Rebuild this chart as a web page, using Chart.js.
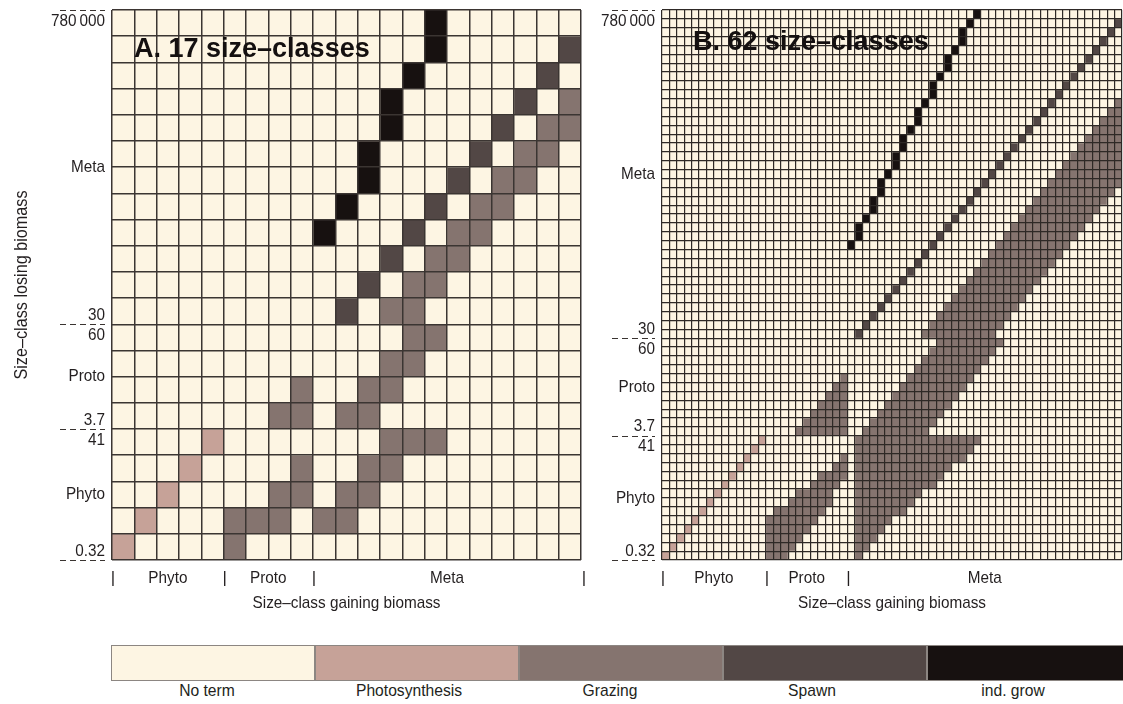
<!DOCTYPE html>
<html>
<head>
<meta charset="utf-8">
<title>Size-class transfer terms</title>
<script src="https://cdn.jsdelivr.net/npm/chart.js@4.4.1/dist/chart.umd.min.js"></script>
<style>
  html, body { margin: 0; padding: 0; background: #ffffff; }
  body { position: relative; width: 1123px; height: 704px; overflow: hidden;
         font-family: "Liberation Sans", Arial, Helvetica, sans-serif; color: #231f20; }
  canvas { position: absolute; top: 0; }
  #panelA { left: 0; }
  #panelB { left: 600px; }
  #legendBar { position: absolute; left: 111px; top: 645px; width: 1012px; height: 36px;
               overflow: hidden; display: flex; }
  .swatch { flex: 0 0 204px; height: 36px; border: 1px solid #8c8682; box-sizing: border-box; }
  .legendText { position: absolute; top: 681px; font-size: 17px; line-height: 20px;
                transform: translateX(-50%) scaleX(0.92); white-space: nowrap; }
</style>
</head>
<body>
<canvas id="panelA" width="600" height="625"></canvas>
<canvas id="panelB" width="523" height="625"></canvas>
<div id="legendBar"></div>
<script>
// Transfer terms, in legend order
const termNames = ['No term', 'Photosynthesis', 'Grazing', 'Spawn', 'ind. grow'];

// Functional groups of the size spectrum with their smallest / largest class sizes
const groupNames = ['Phyto', 'Proto', 'Meta'];
const groupSmallest = ['0.32', '3.7', '30'];
const groupLargest = ['41', '60', '780\u2009000'];

// Size-classes per group at each resolution
const classesA = [5, 4, 12];
const classesB = [14, 11, 37];

// Non-empty cells of each losing class, bottom row first:
// [first gaining class, last gaining class, term index]
const cellsA = [
  [[0, 0, 1], [5, 5, 2]],
  [[1, 1, 1], [5, 7, 2], [9, 10, 2]],
  [[2, 2, 1], [7, 8, 2], [10, 11, 2]],
  [[3, 3, 1], [8, 8, 2], [11, 12, 2]],
  [[4, 4, 1], [12, 14, 2]],
  [[7, 8, 2], [10, 11, 2]],
  [[8, 8, 2], [11, 12, 2]],
  [[12, 13, 2]],
  [[13, 14, 2]],
  [[10, 10, 3], [12, 13, 2]],
  [[11, 11, 3], [13, 14, 2]],
  [[12, 12, 3], [14, 15, 2]],
  [[9, 9, 4], [13, 13, 3], [15, 16, 2]],
  [[10, 10, 4], [14, 14, 3], [16, 17, 2]],
  [[11, 11, 4], [15, 15, 3], [17, 18, 2]],
  [[11, 11, 4], [16, 16, 3], [18, 19, 2]],
  [[12, 12, 4], [17, 17, 3], [19, 20, 2]],
  [[12, 12, 4], [18, 18, 3], [20, 20, 2]],
  [[13, 13, 4], [19, 19, 3]],
  [[14, 14, 4], [20, 20, 3]],
  [[14, 14, 4]]
];

const cellsB = [
  [[0, 0, 1], [14, 16, 2], [26, 26, 2]],
  [[1, 1, 1], [14, 17, 2], [26, 27, 2]],
  [[2, 2, 1], [14, 18, 2], [26, 28, 2]],
  [[3, 3, 1], [14, 19, 2], [26, 29, 2]],
  [[4, 4, 1], [14, 20, 2], [26, 30, 2]],
  [[5, 5, 1], [15, 21, 2], [26, 32, 2]],
  [[6, 6, 1], [17, 22, 2], [26, 33, 2]],
  [[7, 7, 1], [18, 22, 2], [26, 34, 2]],
  [[8, 8, 1], [20, 23, 2], [26, 36, 2]],
  [[9, 9, 1], [21, 24, 2], [26, 37, 2]],
  [[10, 10, 1], [23, 24, 2], [26, 38, 2]],
  [[11, 11, 1], [24, 24, 2], [26, 40, 2]],
  [[12, 12, 1], [26, 41, 2]],
  [[13, 13, 1], [26, 42, 2]],
  [[18, 24, 2], [27, 35, 2]],
  [[19, 24, 2], [28, 36, 2]],
  [[20, 24, 2], [29, 37, 2]],
  [[21, 24, 2], [30, 38, 2]],
  [[22, 24, 2], [31, 39, 2]],
  [[23, 24, 2], [32, 40, 2]],
  [[24, 24, 2], [33, 41, 2]],
  [[34, 42, 2]],
  [[35, 43, 2]],
  [[36, 44, 2]],
  [[37, 45, 2]],
  [[26, 26, 3], [35, 44, 2]],
  [[27, 27, 3], [36, 45, 2]],
  [[28, 28, 3], [37, 46, 2]],
  [[29, 29, 3], [38, 47, 2]],
  [[30, 30, 3], [39, 48, 2]],
  [[31, 31, 3], [40, 49, 2]],
  [[32, 32, 3], [41, 50, 2]],
  [[33, 33, 3], [42, 51, 2]],
  [[34, 34, 3], [43, 52, 2]],
  [[35, 35, 3], [44, 53, 2]],
  [[25, 25, 4], [36, 36, 3], [45, 54, 2]],
  [[26, 26, 4], [37, 37, 3], [46, 55, 2]],
  [[26, 26, 4], [38, 38, 3], [47, 56, 2]],
  [[27, 27, 4], [39, 39, 3], [48, 57, 2]],
  [[28, 28, 4], [40, 40, 3], [49, 58, 2]],
  [[28, 28, 4], [41, 41, 3], [50, 59, 2]],
  [[29, 29, 4], [42, 42, 3], [51, 60, 2]],
  [[29, 29, 4], [43, 43, 3], [52, 61, 2]],
  [[30, 30, 4], [44, 44, 3], [53, 61, 2]],
  [[31, 31, 4], [45, 45, 3], [54, 61, 2]],
  [[31, 31, 4], [46, 46, 3], [55, 61, 2]],
  [[32, 32, 4], [47, 47, 3], [56, 61, 2]],
  [[32, 32, 4], [48, 48, 3], [57, 61, 2]],
  [[33, 33, 4], [49, 49, 3], [58, 61, 2]],
  [[34, 34, 4], [50, 50, 3], [59, 61, 2]],
  [[34, 34, 4], [51, 51, 3], [60, 61, 2]],
  [[35, 35, 4], [52, 52, 3], [61, 61, 2]],
  [[36, 36, 4], [53, 53, 3]],
  [[36, 36, 4], [54, 54, 3]],
  [[37, 37, 4], [55, 55, 3]],
  [[38, 38, 4], [56, 56, 3]],
  [[38, 38, 4], [57, 57, 3]],
  [[39, 39, 4], [58, 58, 3]],
  [[40, 40, 4], [59, 59, 3]],
  [[40, 40, 4], [60, 60, 3]],
  [[41, 41, 4], [61, 61, 3]],
  [[42, 42, 4]]
];

// ---- styling ----
const termColors = ['#fdf5e3', '#c6a298', '#85746f', '#524745', '#171110'];
const FONT = '"Liberation Sans", Arial, Helvetica, sans-serif';
const TEXT = '#231f20';

function drawText(ctx, text, x, y, opt = {}) {
  ctx.save();
  ctx.translate(x, y);
  if (opt.rotate) ctx.rotate(opt.rotate);
  ctx.scale(opt.stretch || 0.9, 1);
  ctx.font = `${opt.weight || 'normal'} ${opt.size || 17}px ${FONT}`;
  ctx.textAlign = opt.align || 'center';
  ctx.textBaseline = 'middle';
  ctx.fillStyle = opt.color || TEXT;
  ctx.fillText(text, 0, 0);
  ctx.restore();
}

// Group labels, class-size labels, boundary marks and titles around a matrix
const sizeAxesPlugin = {
  id: 'sizeAxes',
  afterDraw(chart, _args, o) {
    const { ctx, chartArea: area, scales: { x, y } } = chart;
    const n = o.groups.reduce((a, b) => a + b, 0);
    const labelX = area.left - o.labelGap;
    let s = 0;
    o.groups.forEach((k, g) => {
      // class-size side
      drawText(ctx, groupNames[g], labelX, y.getPixelForValue(s + k / 2), { align: 'right' });
      drawText(ctx, groupSmallest[g], labelX, y.getPixelForValue(s) - 9, { align: 'right' });
      drawText(ctx, groupLargest[g], labelX, y.getPixelForValue(s + k) + 11, { align: 'right' });
      // gaining side
      drawText(ctx, groupNames[g], x.getPixelForValue(s + (k - 1) / 2), area.bottom + o.xLabelDy);
      drawText(ctx, '|', x.getPixelForValue(s - 0.5) + 1, area.bottom + o.xLabelDy, { stretch: 1 });
      s += k;
    });
    if (o.closeEnd) drawText(ctx, '|', x.getPixelForValue(n - 0.5) + 3, area.bottom + o.xLabelDy, { stretch: 1 });

    // dashed separators beside the class-size labels
    ctx.save();
    ctx.setLineDash([6, 4]);
    ctx.strokeStyle = '#3a3431';
    ctx.lineWidth = 1;
    let b = 0;
    [0, ...o.groups].forEach(k => {
      b += k;
      const py = Math.round(y.getPixelForValue(b)) + 0.5;
      ctx.beginPath();
      ctx.moveTo(area.left - o.dashFrom, py);
      ctx.lineTo(labelX, py);
      ctx.stroke();
    });
    ctx.restore();

    drawText(ctx, 'Size–class gaining biomass', (area.left + area.right) / 2, area.bottom + o.xTitleDy);
    if (o.yTitle) drawText(ctx, 'Size–class losing biomass', 22, (area.top + area.bottom) / 2,
      { rotate: -Math.PI / 2, size: 18 });
    drawText(ctx, o.title, area.left + o.titleDx, area.top + o.titleDy,
      { align: 'left', weight: 'bold', size: 27, stretch: 1, color: '#141010' });
  }
};

function matrixData(rows) {
  const classLabels = rows.map((_, i) => String(i + 1));
  const datasets = termNames.map((name, t) => ({
    label: name,
    data: [],
    backgroundColor: termColors[t]
  }));
  rows.forEach((runs, r) => {
    const line = classLabels.map(() => 0);
    runs.forEach(([a, b, t]) => { for (let c = a; c <= b; c++) line[c] = t; });
    line.forEach((t, c) => datasets[t].data.push({ x: classLabels[c], y: [r, r + 1] }));
  });
  return { labels: classLabels, datasets };
}

function matrixChart(id, rows, groups, style) {
  const n = rows.length;
  const gridOpts = { z: 1, color: style.gridColor, lineWidth: style.gridWidth, drawTicks: false };
  return new Chart(document.getElementById(id), {
    type: 'bar',
    data: matrixData(rows),
    options: {
      responsive: false,
      animation: false,
      events: [],
      layout: { padding: style.padding },
      datasets: { bar: { barPercentage: 1, categoryPercentage: 1, grouped: false, borderWidth: 0 } },
      scales: {
        x: {
          type: 'category', offset: true,
          ticks: { display: false },
          grid: Object.assign({ offset: true }, gridOpts),
          border: { display: false }
        },
        y: {
          type: 'linear', min: 0, max: n,
          ticks: { display: false },
          afterBuildTicks: sc => { sc.ticks = rows.map((_, i) => ({ value: i })).concat([{ value: n }]); },
          grid: gridOpts,
          border: { display: false }
        }
      },
      plugins: {
        legend: { display: false },
        tooltip: { enabled: false },
        sizeAxes: Object.assign({ groups }, style.axes)
      }
    },
    plugins: [sizeAxesPlugin]
  });
}

matrixChart('panelA', cellsA, classesA, {
  padding: { left: 112, top: 10, right: 19, bottom: 65 },
  gridColor: '#3b3532', gridWidth: 1.5,
  axes: { labelGap: 7, dashFrom: 52, xLabelDy: 18, xTitleDy: 43, closeEnd: true, yTitle: true,
          title: 'A. 17 size–classes', titleDx: 22, titleDy: 40 }
});

matrixChart('panelB', cellsB, classesB, {
  padding: { left: 62, top: 10, right: 1, bottom: 65 },
  gridColor: '#2e2926', gridWidth: 1.2,
  axes: { labelGap: 7, dashFrom: 50, xLabelDy: 18, xTitleDy: 43, closeEnd: false, yTitle: false,
          title: 'B. 62 size–classes', titleDx: 31, titleDy: 33 }
});

// Colour key
const bar = document.getElementById('legendBar');
termNames.forEach((name, t) => {
  const sw = document.createElement('div');
  sw.className = 'swatch';
  sw.style.background = termColors[t];
  bar.appendChild(sw);
  const lab = document.createElement('div');
  lab.className = 'legendText';
  lab.textContent = name;
  lab.style.left = (207 + 201.5 * t) + 'px';
  document.body.appendChild(lab);
});
</script>
</body>
</html>
